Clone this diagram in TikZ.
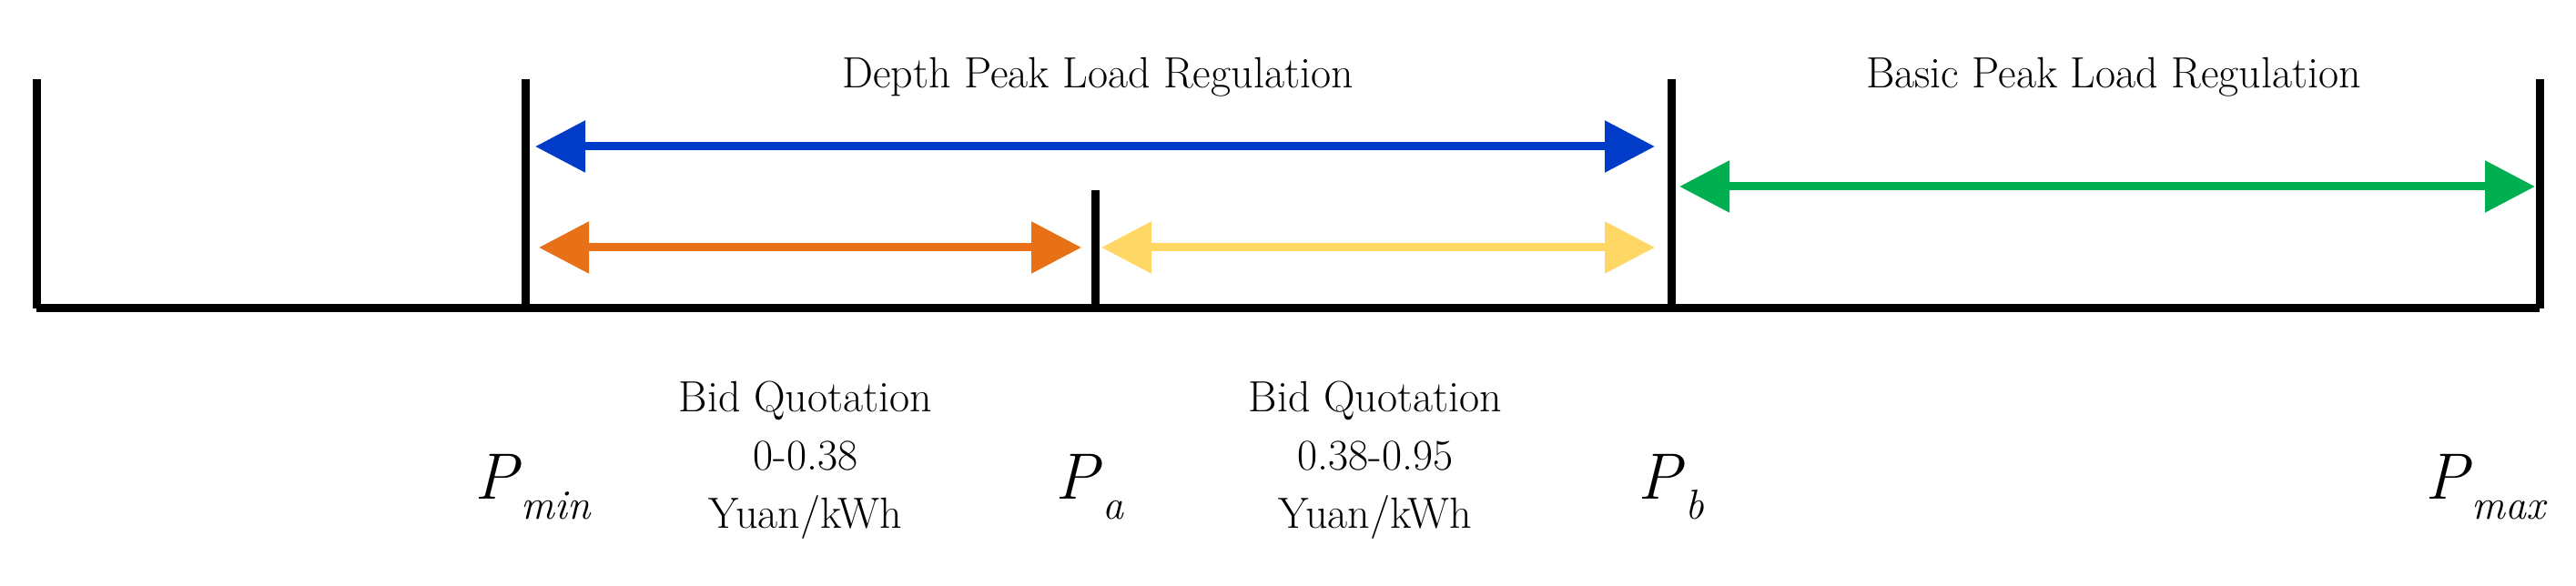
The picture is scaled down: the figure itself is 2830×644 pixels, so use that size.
\documentclass[tikz,border=0pt]{standalone}
\usepackage{fontspec}
\usetikzlibrary{arrows.meta}
\newcommand{\plab}[1]{\textit{P}\raisebox{-0.3em}{\fontsize{46}{50}\selectfont\itshape #1}}
\begin{document}
\begin{tikzpicture}[x=1pt,y=1pt,
  tick/.style={line width=9pt},
  dbl/.style={line width=9pt,{Triangle[length=55pt,width=55pt]}-{Triangle[length=55pt,width=55pt]}},
  lab/.style={font=\fontsize{48}{64}\selectfont,align=center},
  pl/.style={font=\fontsize{72}{80}\selectfont}]
\useasboundingbox (0,0) rectangle (2830,644);
\coordinate (b0) at (40,305); \coordinate (t0) at (40,557);
\coordinate (b1) at (577,305); \coordinate (t1) at (577,557);
\coordinate (b2) at (1203,305); \coordinate (t2) at (1203,435);
\coordinate (b3) at (1836,305); \coordinate (t3) at (1836,557);
\coordinate (b4) at (2790,305); \coordinate (t4) at (2790,557);
\draw[tick,line cap=butt] (b0) -- (b4);
\foreach \i in {0,...,4}{\draw[tick] (b\i) -- (t\i);}
\coordinate (bl) at (588,483); \coordinate (br) at (1818,483);
\coordinate (ol) at (592,372); \coordinate (or) at (1188,372);
\coordinate (yl) at (1210,372); \coordinate (yr) at (1818,372);
\coordinate (gl) at (1845,439); \coordinate (gr) at (2785,439);
\draw[dbl,color={rgb,255:red,0;green,60;blue,200}] (bl) -- (br);
\draw[dbl,color={rgb,255:red,232;green,112;blue,22}] (ol) -- (or);
\draw[dbl,color={rgb,255:red,255;green,215;blue,100}] (yl) -- (yr);
\draw[dbl,color={rgb,255:red,0;green,175;blue,80}] (gl) -- (gr);
\node[lab] (d) at (1206,559) {Depth Peak Load Regulation};
\node[lab] (bs) at (2322,559) {Basic Peak Load Regulation};
\node[lab] (q1) at (885,138) {Bid Quotation\\0-0.38\\Yuan/kWh};
\node[lab] (q2) at (1511,138) {Bid Quotation\\0.38-0.95\\Yuan/kWh};
\node[pl] (p1) at (585,109) {\plab{min}};
\node[pl] (p2) at (1197,109) {\plab{a}};
\node[pl] (p3) at (1836,109) {\plab{b}};
\node[pl] (p4) at (2730,109) {\plab{max}};
\end{tikzpicture}
\end{document}
